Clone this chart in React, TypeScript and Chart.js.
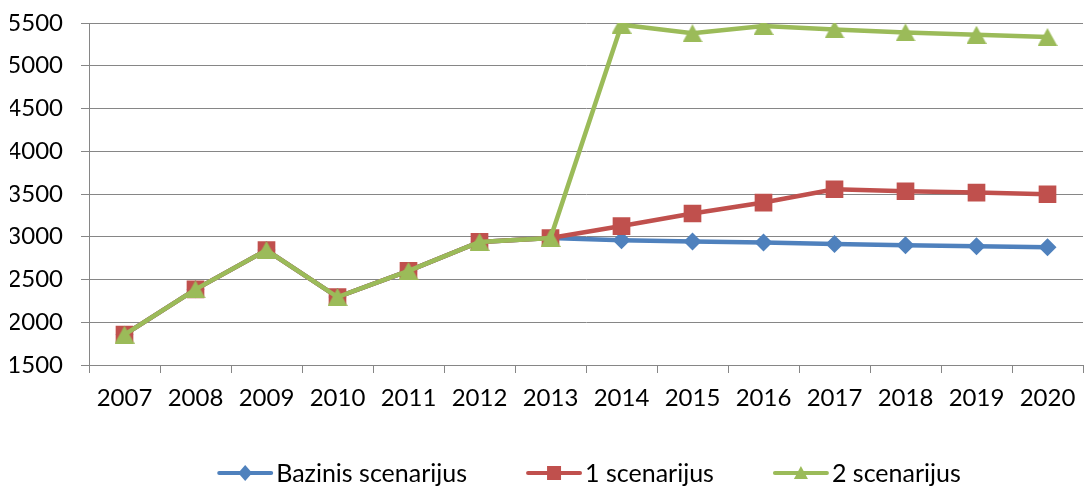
import React, { useEffect, useRef } from "react";
import { Chart, registerables } from "chart.js";

Chart.register(...registerables);

const years = ["2007", "2008", "2009", "2010", "2011", "2012", "2013", "2014", "2015", "2016", "2017", "2018", "2019", "2020"];
const baseScenario = [1855, 2385, 2845, 2295, 2600, 2940, 2985, 2960, 2945, 2933, 2915, 2902, 2890, 2878];
const scenario1 = [1855, 2385, 2845, 2295, 2600, 2940, 2985, 3125, 3272, 3400, 3556, 3532, 3517, 3497];
const scenario2 = [1855, 2385, 2845, 2295, 2600, 2940, 2985, 5480, 5380, 5465, 5424, 5389, 5362, 5335];
const seriesNames = ["Bazinis scenarijus", "1 scenarijus", "2 scenarijus"];

const BLUE = "#4F81BD";
const RED = "#C0504D";
const GREEN = "#9BBB59";
const FONT = "Lato";

function makeTriangle(w: number, h: number, color: string) {
  const c = document.createElement("canvas");
  c.width = w;
  c.height = h;
  const ctx = c.getContext("2d")!;
  ctx.fillStyle = color;
  ctx.beginPath();
  ctx.moveTo(w / 2, 0);
  ctx.lineTo(w, h);
  ctx.lineTo(0, h);
  ctx.closePath();
  ctx.fill();
  return c;
}

const markerKinds = ["diamond", "square", "triangle"];

const excelLegend = {
  id: "excelLegend",
  afterDraw(chart: any) {
    const { ctx, chartArea } = chart;
    const datasets = chart.data.datasets;
    const lineW = 56;
    const textGap = 3;
    const itemGap = 59;
    ctx.save();
    ctx.font = `25px ${FONT}`;
    const widths = datasets.map((ds: any) => ctx.measureText(ds.label).width);
    const total =
      widths.reduce((a: number, b: number) => a + b, 0) +
      datasets.length * (lineW + textGap) +
      (datasets.length - 1) * itemGap;
    const cx = (chartArea.left + chartArea.right) / 2 + 3;
    const cy = chartArea.bottom + 108;
    let x = cx - total / 2;
    datasets.forEach((ds: any, i: number) => {
      const color = ds.borderColor;
      ctx.strokeStyle = color;
      ctx.fillStyle = color;
      ctx.lineWidth = 4;
      ctx.lineCap = "round";
      ctx.beginPath();
      ctx.moveTo(x + 2, cy);
      ctx.lineTo(x + lineW - 2, cy);
      ctx.stroke();
      const mx = x + lineW / 2;
      ctx.beginPath();
      const kind = markerKinds[i];
      if (kind === "diamond") {
        ctx.moveTo(mx, cy - 8);
        ctx.lineTo(mx + 7, cy);
        ctx.lineTo(mx, cy + 8);
        ctx.lineTo(mx - 7, cy);
      } else if (kind === "square") {
        ctx.rect(mx - 7, cy - 7, 14, 14);
      } else {
        ctx.moveTo(mx, cy - 7);
        ctx.lineTo(mx + 7, cy + 6);
        ctx.lineTo(mx - 7, cy + 6);
      }
      ctx.closePath();
      ctx.fill();
      ctx.fillStyle = "#000";
      ctx.textBaseline = "middle";
      ctx.textAlign = "left";
      ctx.fillText(ds.label, x + lineW + textGap, cy + 1);
      x += lineW + textGap + widths[i] + itemGap;
    });
    ctx.restore();
  },
};

export default function App() {
  const ref = useRef<HTMLCanvasElement | null>(null);

  useEffect(() => {
    document.body.style.margin = "0";
    const canvas = ref.current;
    if (!canvas) return;
    const tri = makeTriangle(20, 18, GREEN);
    const chart = new Chart(canvas, {
      type: "line",
      data: {
        labels: years,
        datasets: [
          {
            label: seriesNames[0],
            data: baseScenario,
            borderColor: BLUE,
            backgroundColor: BLUE,
            borderWidth: 4.5,
            pointStyle: "rectRot",
            pointRadius: 9,
            pointBorderWidth: 0,
            order: 2,
          },
          {
            label: seriesNames[1],
            data: scenario1,
            borderColor: RED,
            backgroundColor: RED,
            borderWidth: 4.5,
            pointStyle: "rect",
            pointRadius: 12.5,
            pointBorderWidth: 0,
            order: 1,
          },
          {
            label: seriesNames[2],
            data: scenario2,
            borderColor: GREEN,
            backgroundColor: GREEN,
            borderWidth: 4.5,
            pointStyle: tri as any,
            pointRadius: 10,
            pointBorderWidth: 0,
            order: 0,
          },
        ],
      },
      options: {
        animation: false,
        responsive: false,
        maintainAspectRatio: false,
        layout: { autoPadding: false, padding: { left: 10, right: 1, top: 23, bottom: 67 } },
        plugins: {
          tooltip: { enabled: false },
          legend: { display: false },
        },
        scales: {
          x: {
            offset: true,
            afterFit: (scale: any) => {
              scale.paddingLeft = 0;
              scale.paddingRight = 0;
            },
            grid: {
              offset: true,
              drawOnChartArea: false,
              drawTicks: true,
              tickLength: 8,
              color: "#868686",
            },
            border: { color: "#868686", width: 1 },
            ticks: {
              color: "#000",
              font: { family: FONT, size: 24, lineHeight: 1.583 },
              padding: 6,
              maxRotation: 0,
              autoSkip: false,
            },
          },
          y: {
            min: 1500,
            max: 5500,
            afterFit: (scale: any) => {
              scale.width = 79;
              scale.paddingTop = 0;
              scale.paddingBottom = 0;
            },
            grid: { color: "#868686", tickLength: 8, lineWidth: 1 },
            border: { color: "#868686", width: 1 },
            ticks: {
              stepSize: 500,
              color: "#000",
              font: { family: FONT, size: 24 },
              padding: 18,
              callback: (v: any) => String(v),
            },
          },
        },
      },
      plugins: [excelLegend],
    });
    return () => chart.destroy();
  }, []);

  return (
    <div style={{ width: 1084, height: 490, position: "relative" }}>
      <canvas ref={ref} width={1084} height={490} style={{ display: "block" }} />
    </div>
  );
}
